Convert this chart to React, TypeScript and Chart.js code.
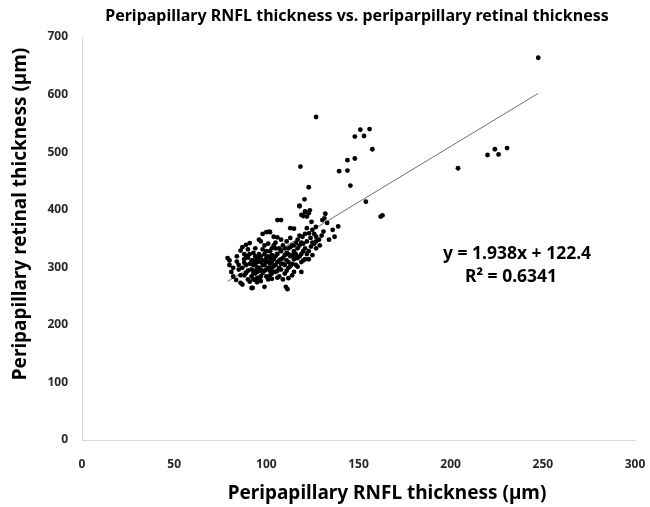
import React, { useEffect, useRef } from 'react';
import { Chart, registerables } from 'chart.js';

Chart.register(...registerables);

// Peripapillary RNFL thickness (µm) – x values
const rnfl: number[] = [
  // 79-86
  79, 80, 81, 82, 83.6, 84, 85, 82, 86, 84, 80, 86, 85,
  // 86-92
  87, 87, 89, 88, 90, 91, 88, 89, 90, 91, 92, 87, 88, 92, 89, 91, 90, 92, 86, 90, 91, 88, 92, 89,
  // 92-98
  93, 94, 95, 96, 97, 93, 94, 95, 96, 97, 98, 93, 94, 95, 96, 97, 98, 93, 94, 95, 96, 97, 98, 94, 95, 96, 97, 98, 93, 95, 96, 97, 98, 94, 92.6,
  // 98-104
  99, 99, 100, 100, 101, 102, 103, 99, 100, 101, 102, 103, 104, 99, 100, 101, 102, 103, 104, 100, 101, 102, 103, 104, 99, 101, 102, 103, 104, 100, 101.6, 104, 102, 103,
  // 104-110
  105, 106, 108, 106, 108, 105, 106, 107, 108, 109, 110, 105, 106, 107, 108, 109, 110, 105, 106, 107, 108, 109, 110, 107, 109, 105, 110, 106, 108, 110.6,
  // 110-116
  111.5, 112, 113, 115, 114, 111, 112, 113, 114, 115, 116, 111, 112, 113, 114, 115, 116, 111, 113, 115, 116, 112, 114, 111, 113, 115, 112, 116,
  // 116-122
  117, 119, 118, 121, 123, 119, 118, 120, 122, 121, 118.5, 120.7, 119.6, 117, 118, 119, 120, 121, 122, 117, 118, 119, 120, 121, 122, 117, 118, 120, 122, 119, 121,
  // 122-132
  123, 123.6, 123.2, 124.2, 124.5, 126, 126.9, 128.6, 130.4, 131, 131.5, 132, 125, 127, 123, 124, 126, 125, 127, 129, 123, 125, 127, 130, 127,
  // 132-140
  139, 139.5, 134, 136, 133, 137,
  // far points
  144, 148, 148, 151, 153, 156, 157.5, 144, 145.6, 154, 162, 163, 204, 220, 224, 226, 230.6, 247.5,
];

// Peripapillary retinal thickness (µm) – y values
const retinal: number[] = [
  316, 304, 292, 284, 278, 310, 296, 299, 286, 319, 312, 273, 304,
  270, 335, 339, 314, 294, 342, 286, 304, 279, 323, 312, 299, 323, 264, 290, 306, 317, 284, 329, 331, 275, 308, 296, 320,
  304, 289, 314, 348, 345, 325, 294, 281, 299, 309, 358, 279, 319, 292, 323, 284, 304, 312, 333, 274, 294, 319, 290, 306, 300, 316, 296, 331, 290, 309, 282, 276, 312, 278, 264,
  266, 294, 361, 309, 319, 361, 333, 323, 284, 299, 306, 289, 314, 338, 328, 279, 294, 321, 302, 316, 341, 286, 309, 292, 304, 309, 328, 299, 338, 296, 362, 353, 316, 280,
  304, 382, 382, 352, 348, 319, 294, 312, 328, 306, 289, 333, 323, 299, 314, 338, 321, 292, 309, 333, 296, 316, 304, 284, 279, 343, 333, 282, 306, 266,
  262, 281, 368, 367, 286, 312, 323, 302, 338, 314, 342, 294, 333, 319, 306, 328, 304, 345, 351, 292, 323, 309, 321, 325, 335, 338, 299, 316,
  301, 292, 407, 397, 394, 391, 406, 389, 388, 396, 475, 418, 353, 333, 319, 343, 328, 358, 368, 348, 338, 323, 312, 333, 345, 316, 355, 341, 323, 309, 314,
  439, 399, 359, 336, 379, 358, 370, 348, 382, 362, 385, 393, 343, 333, 328, 351, 341, 365, 353, 338, 314, 321, 345, 355, 561,
  371, 467, 348, 365, 377, 353,
  486, 489, 527, 539, 528, 540, 505, 468, 442, 414, 388, 390, 472, 495, 505, 496, 507, 664,
];

const xTickValues = [0, 50, 100, 150, 200, 250, 300];
const yTickValues = [0, 100, 200, 300, 400, 500, 600, 700];

const slope = 1.938;
const intercept = 122.4;
const equationLabel = 'y = 1.938x + 122.4';
const r2Label = 'R² = 0.6341';

const chartTitle = 'Peripapillary RNFL thickness vs. periparpillary retinal thickness';
const xTitle = 'Peripapillary RNFL thickness (µm)';
const yTitle = 'Peripapillary retinal thickness (µm)';

const FONT = '"Noto Sans", "Open Sans", sans-serif';

const zeroPad = (s: any) => {
  s.paddingLeft = 0;
  s.paddingRight = 0;
  s.paddingTop = 0;
  s.paddingBottom = 0;
};

export default function App() {
  const ref = useRef<HTMLCanvasElement | null>(null);

  useEffect(() => {
    if (!ref.current) return;
    const points = rnfl.map((x, i) => ({ x, y: retinal[i] }));
    const xMin = Math.min(...rnfl);
    const xMax = Math.max(...rnfl);
    const trend = [
      { x: xMin, y: slope * xMin + intercept },
      { x: xMax, y: slope * xMax + intercept },
    ];

    const textPlugin = {
      id: 'texts',
      afterDraw(chart: any) {
        const ctx = chart.ctx as CanvasRenderingContext2D;
        ctx.save();
        ctx.fillStyle = '#000';
        ctx.textAlign = 'center';
        ctx.textBaseline = 'middle';
        ctx.font = `bold 16px ${FONT}`;
        ctx.fillText(chartTitle, 357, 16);
        ctx.font = `bold 19px ${FONT}`;
        ctx.fillText(xTitle, 387, 494);
        ctx.save();
        ctx.translate(21, 214);
        ctx.rotate(-Math.PI / 2);
        ctx.fillText(yTitle, 0, 0);
        ctx.restore();
        ctx.font = `bold 17.5px ${FONT}`;
        ctx.fillText(equationLabel, 517, 254);
        ctx.fillText(r2Label, 511, 277);
        ctx.restore();
      },
    };

    const chart = new Chart(ref.current, {
      type: 'scatter',
      data: {
        datasets: [
          {
            type: 'line',
            data: trend,
            borderColor: '#707070',
            borderWidth: 1,
            pointRadius: 0,
            fill: false,
            order: 2,
          } as any,
          {
            type: 'scatter',
            data: points,
            backgroundColor: '#000',
            borderColor: '#000',
            borderWidth: 0,
            pointRadius: 2.4,
            order: 1,
          },
        ],
      },
      options: {
        responsive: false,
        animation: false,
        layout: { padding: { top: 37, right: 15, left: 0, bottom: 0 } },
        plugins: {
          legend: { display: false },
          title: { display: false },
          tooltip: { enabled: false },
        },
        scales: {
          x: {
            type: 'linear',
            min: 0,
            max: 300,
            offset: false,
            afterFit: (s: any) => { s.height = 67; zeroPad(s); },
            afterBuildTicks: (s: any) => { s.ticks = xTickValues.map((v) => ({ value: v })); },
            grid: { display: false, drawTicks: false },
            border: { display: true, color: '#d9d9d9', width: 1 },
            ticks: {
              padding: 17,
              color: '#262626',
              font: { family: FONT, size: 12, weight: 'bold' },
            },
          },
          y: {
            type: 'linear',
            min: 0,
            max: 700,
            afterFit: (s: any) => { s.width = 82; zeroPad(s); },
            afterBuildTicks: (s: any) => { s.ticks = yTickValues.map((v) => ({ value: v })); },
            grid: { display: false, drawTicks: false },
            border: { display: true, color: '#d9d9d9', width: 1 },
            ticks: {
              padding: 14,
              color: '#262626',
              font: { family: FONT, size: 12, weight: 'bold' },
            },
          },
        },
      },
      plugins: [textPlugin],
    });
    return () => chart.destroy();
  }, []);

  return (
    <div style={{ position: 'absolute', left: 0, top: 0, width: 650, height: 507, background: '#fff' }}>
      <canvas ref={ref} width={650} height={507} style={{ display: 'block' }} />
    </div>
  );
}
